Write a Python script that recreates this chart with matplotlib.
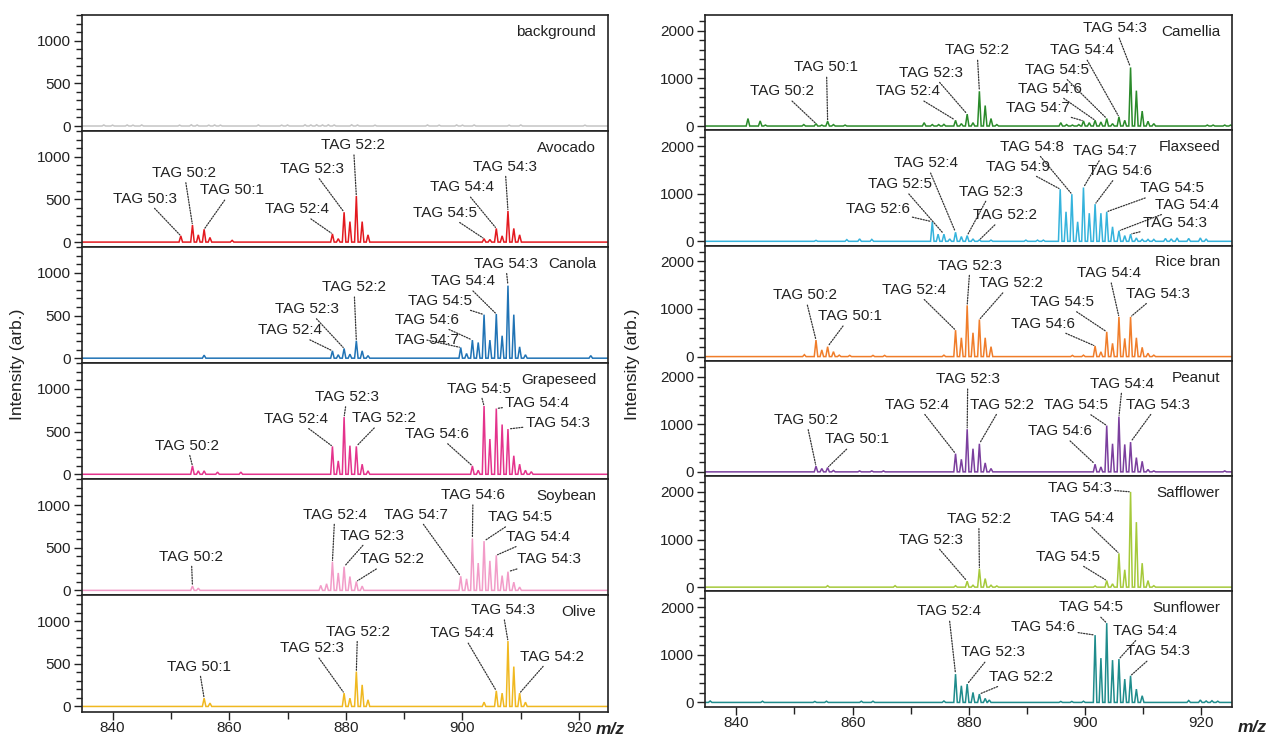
import numpy as np
import matplotlib
matplotlib.use('Agg')
import matplotlib.pyplot as plt
from matplotlib.ticker import MultipleLocator

plt.rcParams['font.family'] = ['Liberation Sans', 'DejaVu Sans']

# ---------------- peak lists (m/z, intensity) ----------------
background_mz = [838.5, 840.0, 842.5, 843.5, 845.0, 851.5, 853.5, 854.5, 856.5, 857.5, 858.5,
                 865.0, 869.0, 870.0, 873.0, 874.0, 875.0, 876.0, 877.0, 878.0, 881.0, 882.0,
                 885.0, 894.0, 896.0, 899.0, 900.0, 902.0, 908.0, 910.0, 921.0]
background_int = [12, 10, 12, 10, 12, 10, 14, 12, 10, 12, 10,
                  12, 10, 12, 14, 12, 14, 12, 14, 12, 14, 12,
                  10, 12, 10, 12, 10, 12, 10, 12, 10]

avocado_mz = [851.7, 853.7, 854.7, 855.7, 856.7, 860.5, 877.7, 878.7, 879.7, 880.7, 881.8, 882.8,
              883.8, 903.7, 904.7, 905.8, 906.8, 907.8, 908.8, 909.8]
avocado_int = [73, 200, 85, 150, 54, 20, 96, 40, 350, 240, 540, 240,
               85, 40, 30, 160, 73, 365, 160, 85]

canola_mz = [855.7, 877.7, 878.7, 879.7, 880.7, 881.8, 882.8, 883.8, 899.7, 900.7, 901.7, 902.7,
             903.7, 904.7, 905.8, 906.8, 907.8, 908.8, 909.8, 910.8, 922.0]
canola_int = [35, 86, 40, 114, 47, 204, 86, 30, 125, 55, 212, 184,
              510, 212, 518, 263, 850, 510, 133, 40, 30]

grapeseed_mz = [853.7, 854.7, 855.7, 858.0, 862.0, 877.7, 878.7, 879.7, 880.7, 881.8, 882.8, 883.8,
                901.7, 902.7, 903.7, 904.7, 905.8, 906.8, 907.8, 908.8, 909.8, 910.8, 911.8]
grapeseed_int = [98, 40, 40, 25, 25, 327, 157, 670, 335, 327, 118, 40,
                 98, 47, 800, 413, 770, 583, 530, 217, 118, 47, 30]

soybean_mz = [853.7, 854.7, 875.7, 876.7, 877.7, 878.7, 879.7, 880.7, 881.8, 882.8, 899.7, 900.7,
              901.7, 902.7, 903.7, 904.7, 905.8, 906.8, 907.8, 908.8, 909.8]
soybean_int = [50, 25, 58, 77, 335, 204, 277, 162, 104, 50, 165, 135,
               608, 320, 577, 346, 411, 173, 219, 96, 38]

olive_mz = [855.7, 856.7, 879.7, 880.7, 881.8, 882.8, 883.8, 903.7, 905.8, 906.8, 907.8, 908.8,
            909.8, 910.8]
olive_int = [97, 39, 156, 97, 408, 253, 78, 50, 183, 156, 766, 467, 156, 50]

camellia_mz = [842.0, 844.1, 845.0, 851.6, 853.7, 854.7, 855.7, 856.7, 858.7, 872.3, 873.7, 874.8,
               875.7, 877.7, 878.7, 879.7, 880.7, 881.8, 882.8, 883.8, 884.8, 895.8, 896.8, 897.8,
               898.9, 899.7, 900.7, 901.7, 902.7, 903.7, 904.7, 905.8, 906.8, 907.8, 908.8, 909.8,
               910.8, 911.8, 921.0, 922.0, 924.0, 925.0]
camellia_int = [157, 107, 20, 30, 50, 20, 100, 30, 20, 70, 30, 30,
                35, 120, 50, 250, 70, 730, 430, 157, 30, 70, 30, 20,
                30, 107, 70, 120, 85, 157, 50, 193, 120, 1230, 743, 314,
                100, 50, 20, 20, 20, 20]

flaxseed_mz = [853.7, 859.0, 861.2, 863.3, 873.7, 874.7, 875.7, 876.7, 877.7, 878.7, 879.7, 880.7,
               881.8, 883.8, 889.8, 891.8, 892.8, 895.7, 896.7, 897.7, 898.7, 899.7, 900.7, 901.7,
               902.7, 903.7, 904.7, 905.8, 906.8, 907.8, 908.8, 909.8, 910.8, 911.8, 913.8, 914.8,
               915.8, 917.8, 919.8, 920.8]
flaxseed_int = [20, 35, 50, 40, 410, 150, 150, 50, 190, 100, 120, 50,
                30, 25, 25, 25, 25, 1095, 620, 990, 410, 1130, 590, 780,
                590, 620, 305, 220, 120, 150, 70, 40, 40, 40, 60, 50,
                70, 60, 70, 50]

ricebran_mz = [851.7, 853.7, 854.7, 855.7, 856.7, 857.7, 859.5, 863.5, 865.5, 875.7, 877.7, 878.7,
               879.7, 880.7, 881.8, 882.8, 883.8, 897.8, 899.7, 901.7, 902.7, 903.7, 904.7, 905.8,
               906.8, 907.8, 908.8, 909.8, 910.8, 911.8]
ricebran_int = [40, 347, 140, 208, 104, 30, 25, 25, 25, 30, 555, 395,
                1076, 500, 778, 395, 208, 25, 30, 222, 100, 520, 278, 833,
                382, 833, 395, 194, 70, 30]

peanut_mz = [853.7, 854.7, 855.7, 856.7, 861.2, 863.3, 865.3, 877.7, 878.7, 879.7, 880.7, 881.8,
             882.8, 883.8, 901.7, 902.7, 903.7, 904.7, 905.8, 906.8, 907.8, 908.8, 909.8, 910.8,
             911.8, 924.0]
peanut_int = [118, 70, 90, 30, 20, 20, 20, 382, 264, 896, 486, 590,
              188, 70, 160, 104, 972, 590, 1160, 576, 625, 300, 222, 50,
              20, 20]

safflower_mz = [855.7, 867.3, 877.7, 879.7, 880.7, 881.8, 882.8, 883.8, 884.8, 901.7, 903.7, 904.7,
                905.8, 906.8, 907.8, 908.8, 909.8, 910.8, 911.8]
safflower_int = [30, 30, 30, 124, 40, 386, 180, 40, 25, 25, 138, 69,
                 710, 365, 2000, 1365, 503, 138, 30]

sunflower_mz = [835.5, 844.5, 853.5, 855.5, 861.5, 863.5, 875.7, 877.7, 878.7, 879.7, 880.7, 881.8,
                882.8, 883.5, 895.8, 897.7, 899.7, 901.7, 902.7, 903.7, 904.7, 905.8, 906.8, 907.8,
                908.8, 909.8, 917.8, 919.8, 920.8, 921.8, 922.8]
sunflower_int = [30, 25, 20, 25, 25, 25, 30, 594, 350, 385, 210, 175,
                 84, 50, 20, 20, 25, 1413, 930, 1665, 888, 910, 490, 560,
                 280, 140, 40, 50, 30, 35, 25]

# ---------------- labelled TAG peaks ----------------
avocado_tags = ['TAG 50:3', 'TAG 50:2', 'TAG 50:1', 'TAG 52:4', 'TAG 52:3', 'TAG 52:2',
                'TAG 54:5', 'TAG 54:4', 'TAG 54:3']
avocado_tag_mz = [851.7, 853.7, 855.7, 877.7, 879.7, 881.8, 903.7, 905.8, 907.8]

canola_tags = ['TAG 52:4', 'TAG 52:3', 'TAG 52:2', 'TAG 54:7', 'TAG 54:6', 'TAG 54:5',
               'TAG 54:4', 'TAG 54:3']
canola_tag_mz = [877.7, 879.7, 881.8, 899.7, 901.7, 903.7, 905.8, 907.8]

grapeseed_tags = ['TAG 50:2', 'TAG 52:4', 'TAG 52:3', 'TAG 52:2', 'TAG 54:6', 'TAG 54:5',
                  'TAG 54:4', 'TAG 54:3']
grapeseed_tag_mz = [853.7, 877.7, 879.7, 881.8, 901.7, 903.7, 905.8, 907.8]

soybean_tags = ['TAG 50:2', 'TAG 52:4', 'TAG 52:3', 'TAG 52:2', 'TAG 54:7', 'TAG 54:6',
                'TAG 54:5', 'TAG 54:4', 'TAG 54:3']
soybean_tag_mz = [853.7, 877.7, 879.7, 881.8, 899.7, 901.7, 903.7, 905.8, 907.8]

olive_tags = ['TAG 50:1', 'TAG 52:3', 'TAG 52:2', 'TAG 54:4', 'TAG 54:3', 'TAG 54:2']
olive_tag_mz = [855.7, 879.7, 881.8, 905.8, 907.8, 909.8]

camellia_tags = ['TAG 50:2', 'TAG 50:1', 'TAG 52:4', 'TAG 52:3', 'TAG 52:2', 'TAG 54:7',
                 'TAG 54:6', 'TAG 54:5', 'TAG 54:4', 'TAG 54:3']
camellia_tag_mz = [853.7, 855.7, 877.7, 879.7, 881.8, 899.7, 901.7, 903.7, 905.8, 907.8]

flaxseed_tags = ['TAG 52:6', 'TAG 52:5', 'TAG 52:4', 'TAG 52:3', 'TAG 52:2', 'TAG 54:9',
                 'TAG 54:8', 'TAG 54:7', 'TAG 54:6', 'TAG 54:5', 'TAG 54:4', 'TAG 54:3']
flaxseed_tag_mz = [873.7, 875.7, 877.7, 879.7, 881.8, 895.7, 897.7, 899.7, 901.7, 903.7,
                   905.8, 907.8]

ricebran_tags = ['TAG 50:2', 'TAG 50:1', 'TAG 52:4', 'TAG 52:3', 'TAG 52:2', 'TAG 54:6',
                 'TAG 54:5', 'TAG 54:4', 'TAG 54:3']
ricebran_tag_mz = [853.7, 855.7, 877.7, 879.7, 881.8, 901.7, 903.7, 905.8, 907.8]

peanut_tags = ricebran_tags
peanut_tag_mz = ricebran_tag_mz

safflower_tags = ['TAG 52:3', 'TAG 52:2', 'TAG 54:5', 'TAG 54:4', 'TAG 54:3']
safflower_tag_mz = [879.7, 881.8, 903.7, 905.8, 907.8]

sunflower_tags = ['TAG 52:4', 'TAG 52:3', 'TAG 52:2', 'TAG 54:6', 'TAG 54:5', 'TAG 54:4',
                  'TAG 54:3']
sunflower_tag_mz = [877.7, 879.7, 881.8, 901.7, 903.7, 905.8, 907.8]

# label placement (layout, data coordinates of text centre)
label_pos = {
    'Avocado': [(845.6, 510), (852.3, 810), (860.4, 606), (871.6, 386), (874.2, 857),
                (881.3, 1135), (897.0, 344), (900.0, 641), (907.3, 884)],
    'Canola': [(870.4, 329), (873.4, 576), (881.4, 831), (893.9, 212), (894.0, 451),
               (896.1, 675), (900.1, 902), (907.4, 1106)],
    'Grapeseed': [(852.8, 335), (871.4, 650), (880.2, 905), (886.5, 657), (895.6, 472),
                  (902.9, 1004), (912.8, 839), (916.3, 598)],
    'Soybean': [(853.5, 396), (878.1, 888), (884.4, 642), (887.9, 365), (892.1, 888),
                (901.8, 1115), (909.9, 858), (913.0, 627), (914.9, 365)],
    'Olive': [(854.8, 467), (874.2, 681), (882.0, 875), (900.0, 856), (906.9, 1128),
              (915.3, 584)],
    'Camellia': [(847.8, 729), (855.5, 1229), (869.5, 729), (873.5, 1121), (881.4, 1586),
                 (891.8, 386), (893.9, 786), (895.2, 1179), (899.4, 1586), (905.2, 2050)],
    'Flaxseed': [(864.3, 676), (868.2, 1199), (872.7, 1638), (883.8, 1045), (886.2, 550),
                 (888.5, 1568), (890.9, 1986), (903.4, 1895), (906.0, 1477), (915.0, 1115),
                 (917.5, 767), (915.4, 383)],
    'Rice bran': [(851.8, 1285), (859.6, 847), (870.6, 1403), (880.2, 1910), (887.3, 1542),
                  (892.8, 694), (896.0, 1146), (904.1, 1750), (912.5, 1319)],
    'Peanut': [(852.0, 1090), (860.7, 681), (871.1, 1410), (879.8, 1944), (885.7, 1410),
               (895.6, 854), (898.5, 1403), (906.4, 1854), (912.5, 1410)],
    'Safflower': [(873.5, 1000), (881.7, 1434), (897.0, 641), (899.4, 1455), (899.1, 2090)],
    'Sunflower': [(876.5, 1909), (884.1, 1049), (889.0, 538), (892.8, 1573), (901.0, 1993),
                  (910.2, 1503), (912.5, 1070)],
}

left_panels = [
    ('background', background_mz, background_int, '#c4c4c4', [], []),
    ('Avocado', avocado_mz, avocado_int, '#e3191f', avocado_tags, avocado_tag_mz),
    ('Canola', canola_mz, canola_int, '#2073b5', canola_tags, canola_tag_mz),
    ('Grapeseed', grapeseed_mz, grapeseed_int, '#e4338c', grapeseed_tags, grapeseed_tag_mz),
    ('Soybean', soybean_mz, soybean_int, '#f29cc8', soybean_tags, soybean_tag_mz),
    ('Olive', olive_mz, olive_int, '#f0b820', olive_tags, olive_tag_mz),
]
right_panels = [
    ('Camellia', camellia_mz, camellia_int, '#2a8a2a', camellia_tags, camellia_tag_mz),
    ('Flaxseed', flaxseed_mz, flaxseed_int, '#35b3dc', flaxseed_tags, flaxseed_tag_mz),
    ('Rice bran', ricebran_mz, ricebran_int, '#f07d2a', ricebran_tags, ricebran_tag_mz),
    ('Peanut', peanut_mz, peanut_int, '#7b3f9e', peanut_tags, peanut_tag_mz),
    ('Safflower', safflower_mz, safflower_int, '#a5c93a', safflower_tags, safflower_tag_mz),
    ('Sunflower', sunflower_mz, sunflower_int, '#1f8c8c', sunflower_tags, sunflower_tag_mz),
]


def spectrum_xy(mz, inten, xlim, w=0.3):
    mz = np.asarray(mz, float)
    h = np.asarray(inten, float)
    o = np.argsort(mz)
    mz, h = mz[o], h[o]
    z = np.zeros_like(h)
    xs = np.column_stack([mz - w, mz, mz + w]).ravel()
    ys = np.column_stack([z, h, z]).ravel()
    return np.r_[xlim[0], xs, xlim[1]], np.r_[0, ys, 0]


def draw_column(fig, panels, left, width, top, bottom, xlim, ylim, ymajor, yminor):
    ph = (top - bottom) / len(panels)
    for i, (name, mz, inten, color, tags, tag_mz) in enumerate(panels):
        ax = fig.add_axes([left, top - (i + 1) * ph, width, ph])
        xs, ys = spectrum_xy(mz, inten, xlim)
        ax.plot(xs, ys, color=color, lw=1.1, solid_joinstyle='miter')
        ax.set_xlim(*xlim)
        ax.set_ylim(*ylim)
        ax.yaxis.set_major_locator(MultipleLocator(ymajor))
        ax.yaxis.set_minor_locator(MultipleLocator(yminor))
        ax.tick_params(axis='y', which='major', direction='out', length=6, width=1,
                       labelsize=11, pad=2, colors='#222')
        ax.tick_params(axis='y', which='minor', direction='out', length=4, width=1, colors='#222')
        for s in ax.spines.values():
            s.set_linewidth(1.2)
            s.set_color('#222')
        if i == len(panels) - 1:
            ax.xaxis.set_major_locator(MultipleLocator(20))
            ax.xaxis.set_minor_locator(MultipleLocator(10))
            ax.tick_params(axis='x', which='major', direction='out', length=6, width=1,
                           labelsize=11, pad=1, colors='#222')
            ax.tick_params(axis='x', which='minor', direction='out', length=5, width=1,
                           colors='#222')
        else:
            ax.tick_params(axis='x', which='both', bottom=False, labelbottom=False)
        ax.text(0.977, 0.855, name, transform=ax.transAxes, ha='right', va='center',
                fontsize=11, color='#222')
        mz_arr = np.asarray(mz)
        for tag, tm, (tx, ty) in zip(tags, tag_mz, label_pos.get(name, [])):
            h = inten[int(np.argmin(np.abs(mz_arr - tm)))]
            ax.annotate(tag, xy=(tm, h), xytext=(tx, ty), ha='center', va='center',
                        fontsize=11, color='#222',
                        arrowprops=dict(arrowstyle='-', linestyle=(0, (1, 1.2)), lw=0.9,
                                        color='#333', shrinkA=0, shrinkB=1))
    return ax


fig = plt.figure(figsize=(12.72, 7.37), dpi=100)
draw_column(fig, left_panels, 0.0642, 0.414, 0.9796, 0.0345,
            (834.7, 925.0), (-60, 1300), 500, 100)
draw_column(fig, right_panels, 0.5542, 0.4146, 0.9796, 0.0411,
            (834.6, 925.3), (-90, 2330), 1000, 200)

fig.text(18 / 1272, 0.506, 'Intensity (arb.)', rotation=90, ha='center', va='center',
         fontsize=12.5, color='#222')
fig.text(633 / 1272, 0.506, 'Intensity (arb.)', rotation=90, ha='center', va='center',
         fontsize=12.5, color='#222')
fig.text(610 / 1272, 1 - 729 / 737, 'm/z', ha='center', va='center', fontsize=12.5,
         fontweight='bold', fontstyle='italic', color='#222')
fig.text(1252 / 1272, 1 - 727 / 737, 'm/z', ha='center', va='center', fontsize=12.5,
         fontweight='bold', fontstyle='italic', color='#222')

fig.savefig('out.png', dpi=100)
